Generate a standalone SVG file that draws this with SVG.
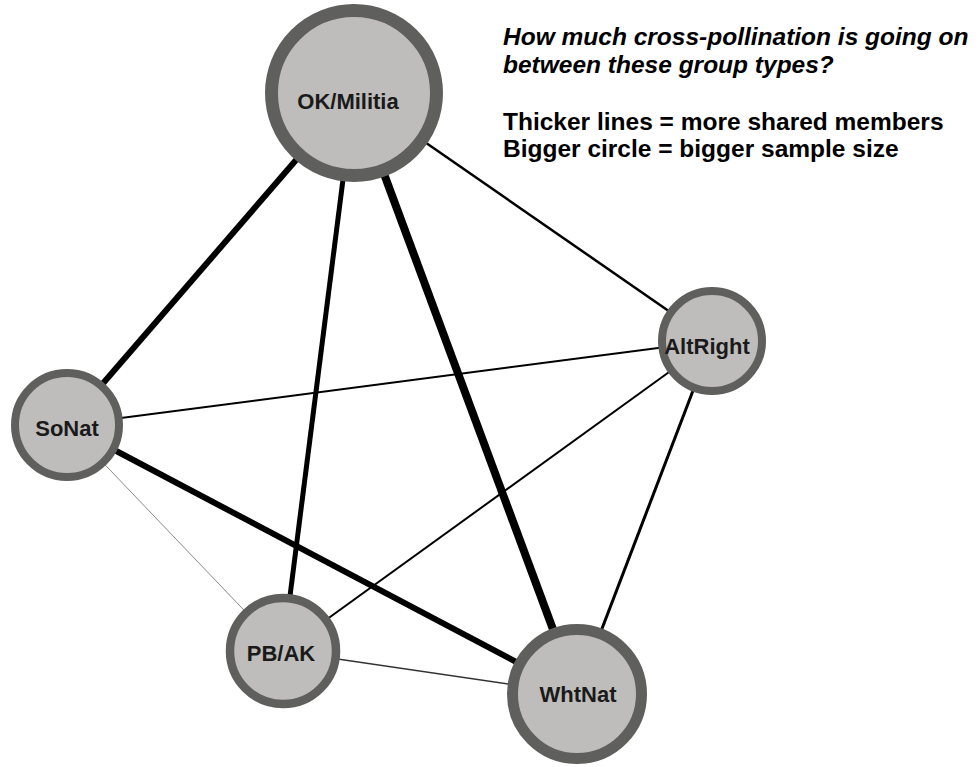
<svg xmlns="http://www.w3.org/2000/svg" width="980" height="767" viewBox="0 0 980 767">
<style>
.node circle{fill:#bebdbb;stroke:#5f5f5d}
.node text{font-family:"Liberation Sans",Arial,sans-serif;font-weight:bold;font-size:22px;fill:#1a1a1a;text-anchor:middle}
.edges line{stroke:#000;stroke-linecap:butt}
.hdr{font-family:"Liberation Sans",Arial,sans-serif;font-weight:bold;font-size:24.5px;fill:#000}
</style>
<rect width="980" height="767" fill="#fff"/>
<g id="connectors" class="edges">
<line x1="354" y1="93" x2="67" y2="425" stroke-width="6"/>
<line x1="354" y1="93" x2="283" y2="651" stroke-width="5"/>
<line x1="354" y1="93" x2="577" y2="694" stroke-width="8"/>
<line x1="354" y1="93" x2="712" y2="341" stroke-width="2.5"/>
<line x1="712" y1="341" x2="67" y2="425" stroke-width="2"/>
<line x1="712" y1="341" x2="283" y2="651" stroke-width="2"/>
<line x1="712" y1="341" x2="577" y2="694" stroke-width="3"/>
<line x1="67" y1="425" x2="577" y2="694" stroke-width="6"/>
<line x1="67" y1="425" x2="283" y2="651" stroke-width="1" style="stroke:#8a8a8a"/>
<line x1="283" y1="651" x2="577" y2="694" stroke-width="1.5" style="stroke:#333"/>
</g>
<g id="node-okmilitia" class="node">
<circle cx="354" cy="93" r="82.5" stroke-width="13"/>
<text x="348" y="109">OK/Militia</text>
</g>
<g id="node-altright" class="node">
<circle cx="712" cy="341" r="50" stroke-width="8"/>
<text x="707" y="354">AltRight</text>
</g>
<g id="node-sonat" class="node">
<circle cx="67" cy="425" r="52" stroke-width="8"/>
<text x="67" y="436">SoNat</text>
</g>
<g id="node-pbak" class="node">
<circle cx="283" cy="651" r="53" stroke-width="8.5"/>
<text x="281" y="661">PB/AK</text>
</g>
<g id="node-whtnat" class="node">
<circle cx="577" cy="694" r="64.5" stroke-width="11"/>
<text x="578" y="702">WhtNat</text>
</g>
<g id="legend">
<text class="hdr" x="503" y="45" font-style="italic">How much cross-pollination is going on</text>
<text class="hdr" x="503" y="73" font-style="italic">between these group types?</text>
<text class="hdr" x="503" y="130">Thicker lines = more shared members</text>
<text class="hdr" x="503" y="157">Bigger circle = bigger sample size</text>
</g>
</svg>
